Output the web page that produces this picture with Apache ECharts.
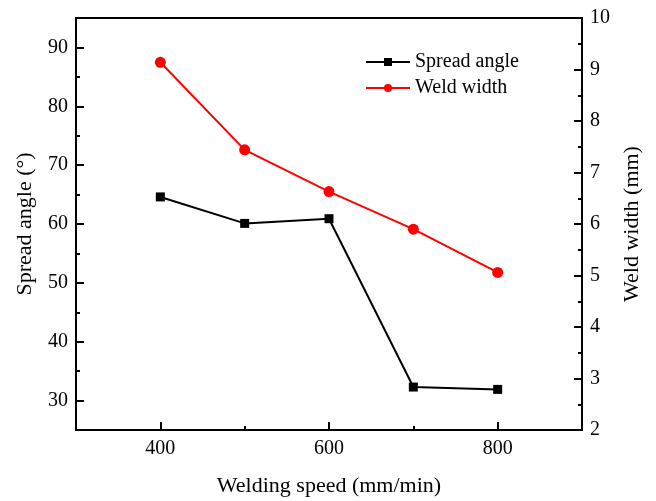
<!DOCTYPE html>
<html>
<head>
<meta charset="utf-8">
<script src="https://cdn.jsdelivr.net/npm/echarts@6/dist/echarts.min.js"></script>
<style>
  html, body { margin: 0; padding: 0; background: #fff; }
  #chart { width: 656px; height: 501px; }
</style>
</head>
<body>
<div id="chart"></div>
<script>
// welding speed (mm/min)
var speeds = [400, 500, 600, 700, 800];
var spreadAngle = [64.6, 60.1, 60.9, 32.3, 31.9];
var weldWidth = [9.14, 7.44, 6.63, 5.90, 5.06];

var xMajor = [400, 600, 800];
var xMinor = [500, 700];
var leftMajor = [30, 40, 50, 60, 70, 80, 90];
var leftMinor = [35, 45, 55, 65, 75, 85];
var rightMajor = [2, 3, 4, 5, 6, 7, 8, 9, 10];
var rightMinor = [2.5, 3.5, 4.5, 5.5, 6.5, 7.5, 8.5, 9.5];

var font = '"Liberation Serif", "DejaVu Serif", serif';
var black = '#000';

function zip (xs, ys) {
  return xs.map(function (x, i) { return [x, ys[i]]; });
}

function lineStyle () {
  return { color: black, width: 2 };
}

var chart = echarts.init(document.getElementById('chart'));
chart.setOption({
  backgroundColor: '#fff',
  animation: false,
  textStyle: { fontFamily: font },
  grid: {
    left: 76,
    right: 74,
    top: 18,
    bottom: 71,
    outerBoundsMode: 'none',
    show: true,
    borderColor: black,
    borderWidth: 2
  },
  legend: {
    orient: 'vertical',
    left: 360,
    top: 47,
    itemWidth: 44,
    itemHeight: 10,
    itemGap: 6,
    textStyle: { fontFamily: font, fontSize: 20, color: black },
    data: ['Spread angle', 'Weld width']
  },
  xAxis: [
    {
      type: 'value',
      min: 300,
      max: 900,
      position: 'bottom',
      name: 'Welding speed (mm/min)',
      nameLocation: 'middle',
      nameGap: 45,
      nameTextStyle: { fontFamily: font, fontSize: 22, color: black },
      axisLine: { lineStyle: lineStyle() },
      axisTick: { inside: true, length: 8, lineStyle: lineStyle(), customValues: xMajor },
      axisLabel: { fontFamily: font, fontSize: 20, color: black, margin: 9, customValues: xMajor },
      splitLine: { show: false }
    },
    {
      type: 'value',
      min: 300,
      max: 900,
      position: 'bottom',
      axisLine: { show: false },
      axisTick: { inside: true, length: 4, lineStyle: lineStyle(), customValues: xMinor },
      axisLabel: { show: false },
      splitLine: { show: false }
    }
  ],
  yAxis: [
    {
      type: 'value',
      min: 25,
      max: 95,
      position: 'left',
      name: 'Spread angle (°)',
      nameLocation: 'middle',
      nameGap: 40,
      nameTextStyle: { fontFamily: font, fontSize: 22, color: black },
      axisLine: { show: true, lineStyle: lineStyle() },
      axisTick: { show: true, inside: true, length: 8, lineStyle: lineStyle(), customValues: leftMajor },
      axisLabel: { fontFamily: font, fontSize: 20, color: black, margin: 8, customValues: leftMajor },
      splitLine: { show: false }
    },
    {
      type: 'value',
      min: 2,
      max: 10,
      position: 'right',
      name: 'Weld width (mm)',
      nameLocation: 'middle',
      nameGap: 36,
      nameTextStyle: { fontFamily: font, fontSize: 22, color: black },
      axisLine: { show: true, lineStyle: lineStyle() },
      axisTick: { show: true, inside: true, length: 8, lineStyle: lineStyle(), customValues: rightMajor },
      axisLabel: { fontFamily: font, fontSize: 20, color: black, margin: 8, customValues: rightMajor },
      splitLine: { show: false }
    },
    {
      type: 'value',
      min: 25,
      max: 95,
      position: 'left',
      axisLine: { show: false },
      axisTick: { show: true, inside: true, length: 4, lineStyle: lineStyle(), customValues: leftMinor },
      axisLabel: { show: false },
      splitLine: { show: false }
    },
    {
      type: 'value',
      min: 2,
      max: 10,
      position: 'right',
      axisLine: { show: false },
      axisTick: { show: true, inside: true, length: 4, lineStyle: lineStyle(), customValues: rightMinor },
      axisLabel: { show: false },
      splitLine: { show: false }
    }
  ],
  series: [
    {
      name: 'Spread angle',
      type: 'line',
      xAxisIndex: 0,
      yAxisIndex: 0,
      data: zip(speeds, spreadAngle),
      symbol: 'rect',
      symbolSize: 9,
      lineStyle: { color: black, width: 2 },
      itemStyle: { color: black }
    },
    {
      name: 'Weld width',
      type: 'line',
      xAxisIndex: 0,
      yAxisIndex: 1,
      data: zip(speeds, weldWidth),
      symbol: 'circle',
      symbolSize: 11,
      lineStyle: { color: '#ff0000', width: 2 },
      itemStyle: { color: '#ff0000' }
    }
  ]
});
</script>
</body>
</html>
